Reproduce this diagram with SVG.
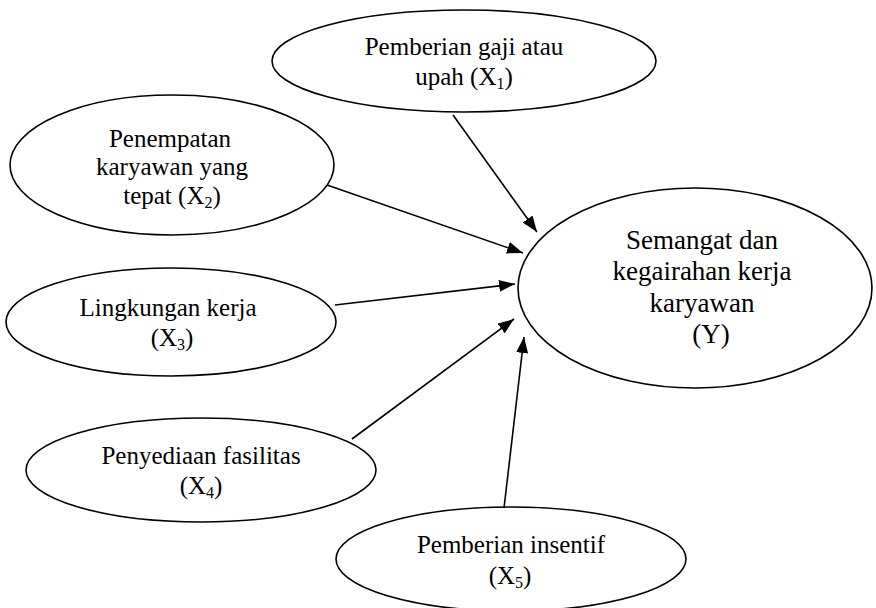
<svg xmlns="http://www.w3.org/2000/svg" width="876" height="608" viewBox="0 0 876 608">
  <defs>
    <style>
      .node ellipse { fill: #ffffff; stroke: #000000; stroke-width: 1.6; }
      .node text { font-family: "Liberation Serif", "Times New Roman", serif; font-size: 25px; fill: #000000; text-anchor: middle; }
      #Y text { font-size: 27px; }
      .sub { font-size: 16px; }
      .edges line { stroke: #000000; stroke-width: 1.6; marker-end: url(#arr); }
    </style>
    <marker id="arr" viewBox="0 0 16 12" refX="16" refY="6" markerWidth="16" markerHeight="12" orient="auto" markerUnits="userSpaceOnUse">
      <path d="M0,0 L16,6 L0,12 z" fill="#000000"/>
    </marker>
  </defs>
  <rect width="876" height="608" fill="#ffffff"/>

  <g id="X1" class="node">
    <ellipse cx="464" cy="61" rx="192" ry="51"/>
    <text x="464" y="55">Pemberian gaji atau</text>
    <text x="464" y="85">upah (X<tspan class="sub" dy="4">1</tspan><tspan dy="-4">)</tspan></text>
  </g>

  <g id="X2" class="node">
    <ellipse cx="172" cy="165" rx="162" ry="70"/>
    <text x="170" y="147">Penempatan</text>
    <text x="172" y="175">karyawan yang</text>
    <text x="172" y="204">tepat (X<tspan class="sub" dy="4">2</tspan><tspan dy="-4">)</tspan></text>
  </g>

  <g id="X3" class="node">
    <ellipse cx="171" cy="322" rx="165" ry="54"/>
    <text x="168" y="316">Lingkungan kerja</text>
    <text x="172" y="346">(X<tspan class="sub" dy="4">3</tspan><tspan dy="-4">)</tspan></text>
  </g>

  <g id="X4" class="node">
    <ellipse cx="201" cy="470" rx="175" ry="52"/>
    <text x="201" y="464">Penyediaan fasilitas</text>
    <text x="201" y="494">(X<tspan class="sub" dy="4">4</tspan><tspan dy="-4">)</tspan></text>
  </g>

  <g id="X5" class="node">
    <ellipse cx="511" cy="559" rx="175" ry="52"/>
    <text x="511" y="553">Pemberian insentif</text>
    <text x="510" y="584">(X<tspan class="sub" dy="4">5</tspan><tspan dy="-4">)</tspan></text>
  </g>

  <g id="Y" class="node">
    <ellipse cx="695" cy="288" rx="177" ry="100"/>
    <text x="702" y="249">Semangat dan</text>
    <text x="702" y="280">kegairahan kerja</text>
    <text x="702" y="312">karyawan</text>
    <text x="711" y="343">(Y)</text>
  </g>

  <g id="connectors" class="edges">
    <line x1="453" y1="115" x2="537" y2="232"/>
    <line x1="327" y1="185" x2="523" y2="253"/>
    <line x1="335" y1="305" x2="515" y2="284"/>
    <line x1="352" y1="439" x2="514" y2="319"/>
    <line x1="504" y1="508" x2="524" y2="337"/>
  </g>
</svg>
